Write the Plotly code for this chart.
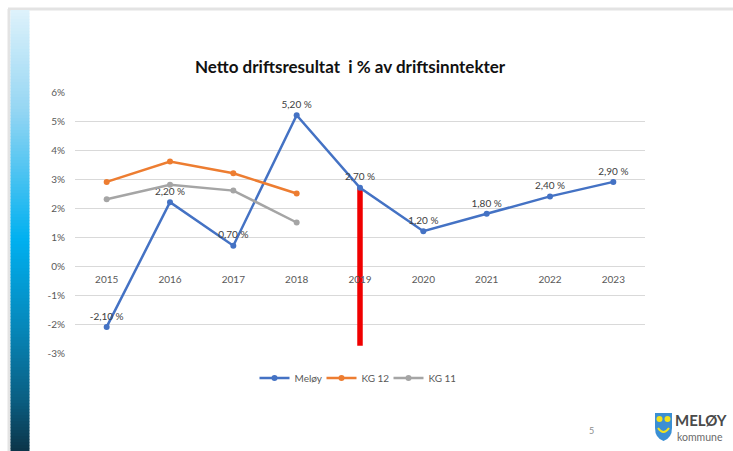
import plotly.graph_objects as go

W, H = 733, 451

# ---- data ----
years = ["2015", "2016", "2017", "2018", "2019", "2020", "2021", "2022", "2023"]
meloy = [-2.1, 2.2, 0.7, 5.2, 2.7, 1.2, 1.8, 2.4, 2.9]
kg12_years = ["2015", "2016", "2017", "2018"]
kg12 = [2.9, 3.6, 3.2, 2.5]
kg11_years = ["2015", "2016", "2017", "2018"]
kg11 = [2.3, 2.8, 2.6, 1.5]
marker_year = ["2019", "2019"]
marker_span = [2.7, -2.75]
ytick_vals = [-3, -2, -1, 0, 1, 2, 3, 4, 5, 6]
ytick_text = ["-3%", "-2%", "-1%", "0%", "1%", "2%", "3%", "4%", "5%", "6%"]

def px(x):
    return x / W

def py(y):
    return 1 - y / H

meloy_text = [f"{v:.2f}".replace(".", ",") + " %" for v in meloy]

fig = go.Figure()

# red 2019 marker bar
fig.add_trace(go.Scatter(
    x=marker_year, y=marker_span, mode="lines",
    line=dict(color="#f00000", width=5.5), showlegend=False, hoverinfo="skip"))

fig.add_trace(go.Scatter(
    x=years, y=meloy, name="Meløy", mode="lines+markers+text",
    line=dict(color="#4472C4", width=2.5), marker=dict(size=6, color="#4472C4"),
    text=meloy_text, textposition="top center",
    textfont=dict(size=10, color="#404040", family="Lato")))
fig.add_trace(go.Scatter(
    x=kg12_years, y=kg12, name="KG 12", mode="lines+markers",
    line=dict(color="#ED7D31", width=2.5), marker=dict(size=6, color="#ED7D31")))
fig.add_trace(go.Scatter(
    x=kg11_years, y=kg11, name="KG 11", mode="lines+markers",
    line=dict(color="#A5A5A5", width=2.5), marker=dict(size=6, color="#A5A5A5")))

y0_frac = py(353)
y1_frac = py(92)
zero_pos = y0_frac + (0 - (-3)) / 9 * (y1_frac - y0_frac)

shapes = []
# frame lines
shapes.append(dict(type="line", xref="paper", yref="paper", x0=px(8), x1=1, y0=py(9), y1=py(9),
                   line=dict(color="#e3e3e3", width=3), layer="below"))
shapes.append(dict(type="line", xref="paper", yref="paper", x0=px(9), x1=px(9), y0=py(9), y1=0,
                   line=dict(color="#e3e3e3", width=3), layer="below"))

# gradient bar
stops = [(10, (0xde, 0xf2, 0xfb)), (110, (0x95, 0xd6, 0xf3)), (240, (0x00, 0xb0, 0xf0)),
         (330, (0x06, 0x86, 0xb8)), (400, (0x0a, 0x5e, 0x82)), (451, (0x0c, 0x34, 0x48))]

def col_at(y):
    for (ya, ca), (yb, cb) in zip(stops[:-1], stops[1:]):
        if ya <= y <= yb:
            t = (y - ya) / (yb - ya)
            c = [round(ca[i] + (cb[i] - ca[i]) * t) for i in range(3)]
            return "rgb(%d,%d,%d)" % tuple(c)
    return "rgb(%d,%d,%d)" % stops[-1][1]

step = 3
yy = 10
while yy < 451:
    shapes.append(dict(type="rect", xref="paper", yref="paper",
                       x0=px(10.5), x1=px(29.5), y0=py(min(yy + step + 0.5, 451)), y1=py(yy),
                       fillcolor=col_at(yy + step / 2), line=dict(width=0), layer="below"))
    yy += step

# logo shield
shapes.append(dict(type="path", xref="paper", yref="paper",
                   path=f"M {px(655)},{py(413)} L {px(672)},{py(413)} L {px(672)},{py(428)} "
                        f"Q {px(672)},{py(438)} {px(663.5)},{py(441)} Q {px(655)},{py(438)} {px(655)},{py(428)} Z",
                   fillcolor="#3a8fd4", line=dict(width=0)))
for cx in (659.5, 667.5):
    shapes.append(dict(type="circle", xref="paper", yref="paper",
                       x0=px(cx - 3), x1=px(cx + 3), y0=py(422), y1=py(416),
                       fillcolor="#f2e21d", line=dict(width=0)))
shapes.append(dict(type="path", xref="paper", yref="paper",
                   path=f"M {px(658)},{py(428)} Q {px(663.5)},{py(436)} {px(669)},{py(428)}",
                   line=dict(color="#f2e21d", width=2)))

annotations = [
    dict(text="<b>Netto driftsresultat  i % av driftsinntekter</b>", xref="paper", yref="paper",
         x=px(350), y=py(66), showarrow=False, font=dict(family="Lato", size=17, color="#111111"),
         xanchor="center", yanchor="middle"),
    dict(text="<b>2019</b>", xref="x", yref="y", x="2019", y=3.93, showarrow=False,
         font=dict(family="Lato", size=13, color="#ff0000"), xshift=-4),
    dict(text="5", xref="paper", yref="paper", x=px(596), y=py(438), showarrow=False,
         font=dict(family="Lato", size=9, color="#8c8c8c")),
    dict(text="<b>MELØY</b>", xref="paper", yref="paper", x=px(673), y=py(420), showarrow=False,
         xanchor="left", yanchor="middle", font=dict(family="Lato", size=15, color="#4a4a4a")),
    dict(text="kommune", xref="paper", yref="paper", x=px(675), y=py(436.5), showarrow=False,
         xanchor="left", yanchor="middle", font=dict(family="Lato", size=10.5, color="#6a6a6a")),
]

fig.update_layout(
    width=W, height=H, autosize=False,
    margin=dict(l=0, r=0, t=0, b=0, pad=0, autoexpand=False),
    paper_bgcolor="white", plot_bgcolor="white",
    font=dict(family="Lato", size=10, color="#595959"),
    xaxis=dict(type="category", categoryorder="array", categoryarray=years,
               domain=[px(75), px(645)], range=[-0.5, 8.5],
               anchor="free", position=zero_pos, showgrid=False, zeroline=False,
               showline=False, ticks="", tickfont=dict(size=10, color="#595959"),
               ticklabelstandoff=6, automargin=False),
    yaxis=dict(domain=[y0_frac, y1_frac], range=[-3, 6], tickvals=ytick_vals, ticktext=ytick_text,
               showgrid=True, gridcolor="#d9d9d9", gridwidth=1, zeroline=False, showline=False,
               ticks="", tickfont=dict(size=10, color="#595959"), ticklabelstandoff=9,
               automargin=False),
    legend=dict(orientation="h", x=px(355), y=py(378), xanchor="center", yanchor="middle",
                font=dict(size=10, color="#595959"), itemwidth=30, tracegroupgap=0,
                entrywidth=22, entrywidthmode="pixels",
                bgcolor="rgba(0,0,0,0)"),
    shapes=shapes, annotations=annotations,
)

fig.write_html("out.html", config={"displayModeBar": False},
               post_script="document.body.style.margin='0';document.body.style.overflow='hidden';")
